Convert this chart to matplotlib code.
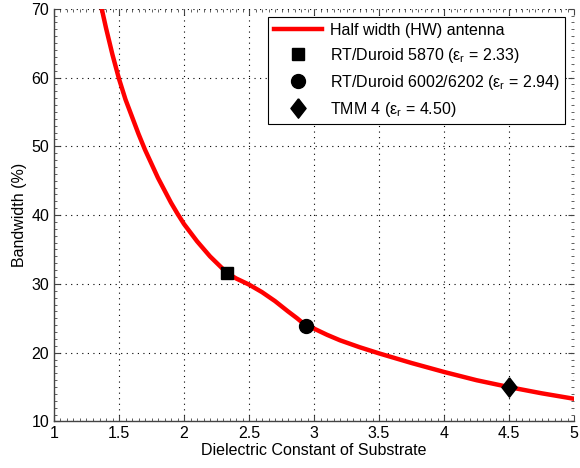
import matplotlib
matplotlib.use("Agg")
import matplotlib.pyplot as plt
from matplotlib.ticker import MultipleLocator

plt.rcParams['font.family'] = ['Liberation Sans', 'DejaVu Sans']
plt.rcParams['mathtext.fontset'] = 'custom'
plt.rcParams['mathtext.rm'] = 'Liberation Sans'
plt.rcParams['mathtext.it'] = 'Liberation Sans'

# curve
eps_r = [1.367, 1.40, 1.45, 1.50, 1.55, 1.60, 1.65, 1.70, 1.80, 1.90, 1.95, 2.00, 2.10,
         2.20, 2.33, 2.40, 2.50, 2.60, 2.70, 2.80, 2.87, 2.94, 3.00, 3.10, 3.20, 3.35,
         3.50, 3.75, 4.00, 4.25, 4.50, 4.75, 5.00]
bw = [70.0, 67.2, 63.3, 59.8, 56.8, 54.3, 51.8, 49.5, 45.4, 41.8, 40.2, 38.7, 36.2,
      34.0, 31.6, 30.8, 29.9, 28.8, 27.5, 26.0, 25.0, 23.9, 23.5, 22.6, 21.8, 20.8,
      19.9, 18.5, 17.2, 16.0, 15.0, 14.1, 13.3]

# substrates
sub_names = ['RT/Duroid 5870 ($\\varepsilon_r$ = 2.33)',
             'RT/Duroid 6002/6202 ($\\varepsilon_r$ = 2.94)',
             'TMM 4 ($\\varepsilon_r$ = 4.50)']
sub_eps = [2.33, 2.94, 4.50]
sub_bw = [31.6, 23.9, 15.0]
diamond = [(0, 1), (0.78, 0), (0, -1), (-0.78, 0), (0, 1)]
sub_mk = ['s', 'o', diamond]
sub_ms = [9, 10, 14]

fig = plt.figure(figsize=(5.8, 4.68), dpi=100)
ax = fig.add_axes([0.0931, 0.0994, 0.8966, 0.882])

ax.plot(eps_r, bw, color='red', lw=3.2, label='Half width (HW) antenna', zorder=3)
for n, xe, yb, m, s in zip(sub_names, sub_eps, sub_bw, sub_mk, sub_ms):
    ax.plot([xe], [yb], marker=m, color='black', ms=s, label=n, zorder=4,
            linestyle='none')

ax.set_xlim(1, 5)
ax.set_ylim(10, 70)
ax.xaxis.set_major_locator(MultipleLocator(0.5))
ax.xaxis.set_minor_locator(MultipleLocator(0.05))
ax.yaxis.set_major_locator(MultipleLocator(10))
ax.yaxis.set_minor_locator(MultipleLocator(1))
ax.xaxis.set_major_formatter(plt.FuncFormatter(lambda v, p: ('%g' % v)))
ax.tick_params(which='both', direction='in', top=True, right=True, labelsize=11.5,
               color='#444444')
ax.tick_params(which='major', length=4, width=0.8)
ax.tick_params(which='minor', length=2, width=0.6)
ax.grid(True, which='major', linestyle=(0, (1, 4)), color='black', lw=0.8)

for sp in ['top', 'right']:
    ax.spines[sp].set_visible(False)
for sp in ['left', 'bottom']:
    ax.spines[sp].set_color('#444444')
    ax.spines[sp].set_linewidth(1.0)

ax.set_xlabel('Dielectric Constant of Substrate', fontsize=11.5, labelpad=1)
ax.set_ylabel('Bandwidth (%)', fontsize=11.5, labelpad=3)

leg = ax.legend(loc='upper right', bbox_to_anchor=(0.983, 0.98), fontsize=11.5,
                frameon=True, fancybox=False, edgecolor='black', framealpha=1,
                handlelength=3.0, handletextpad=0.5, borderpad=0.35,
                labelspacing=0.5, borderaxespad=0)
leg.get_frame().set_linewidth(0.8)

fig.savefig('out.png', dpi=100)
